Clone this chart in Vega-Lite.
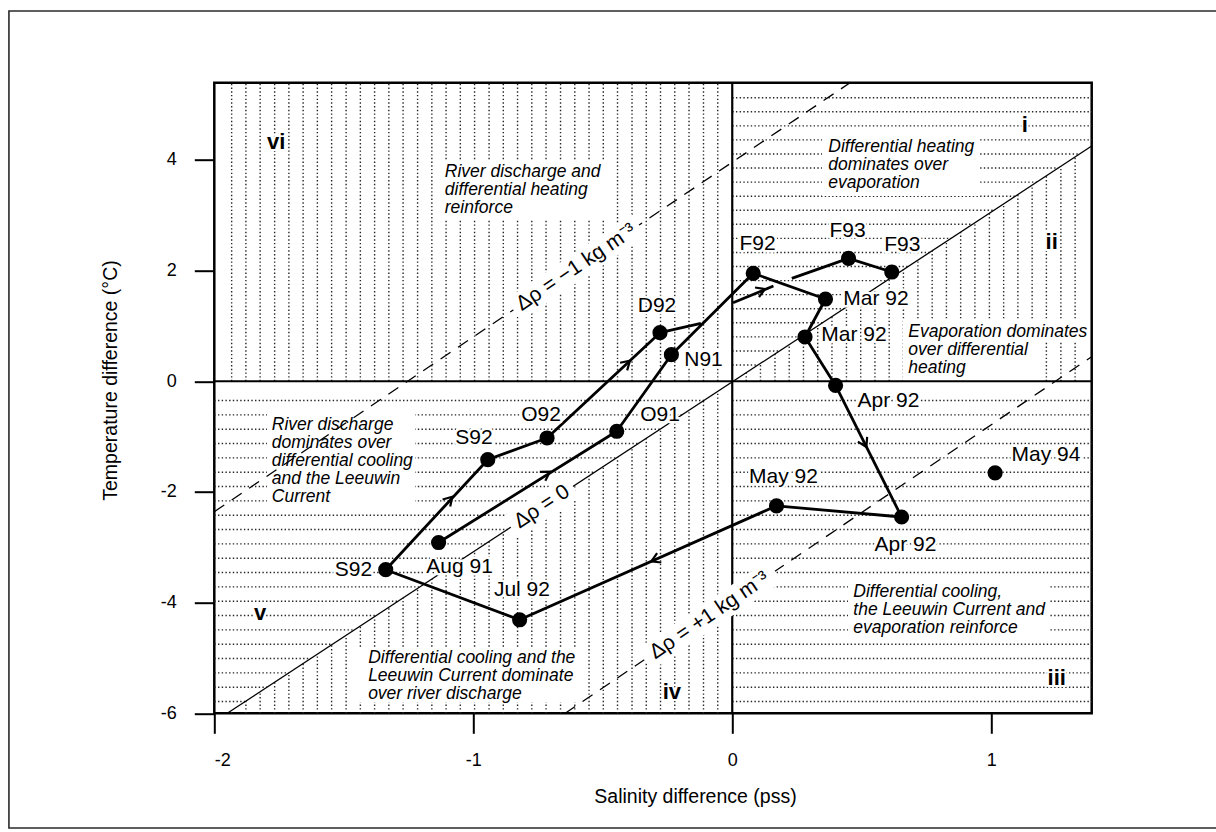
{
  "$schema": "https://vega.github.io/schema/vega-lite/v6.json",
  "width": 877.4,
  "height": 630.6,
  "autosize": {"type": "none"},
  "padding": {"left": 214.3, "top": 82.7, "right": 124.3, "bottom": 118.7},
  "background": "white",
  "config": {
    "view": {"stroke": "black", "strokeWidth": 2.5},
    "font": "Liberation Sans",
    "axis": {
      "domain": false, "grid": false,
      "tickSize": 20, "tickWidth": 2, "tickColor": "black",
      "labelFont": "Liberation Sans", "labelFontSize": 18, "labelColor": "black", "labelPadding": 18,
      "titleFont": "Liberation Sans", "titleFontSize": 19.5, "titleFontWeight": "normal", "titleColor": "black"
    }
  },
  "datasets": {
    "vhatch": [
      {"s":-1.933,"t":0,"t2":5.395},{"s":-1.933,"t":-6,"t2":-5.948},
      {"s":-1.878,"t":0,"t2":5.395},{"s":-1.878,"t":-6,"t2":-5.778},
      {"s":-1.823,"t":0,"t2":5.395},{"s":-1.823,"t":-6,"t2":-5.609},
      {"s":-1.767,"t":0,"t2":5.395},{"s":-1.767,"t":-6,"t2":-5.439},
      {"s":-1.712,"t":0,"t2":5.395},{"s":-1.712,"t":-6,"t2":-5.270},
      {"s":-1.657,"t":0,"t2":5.395},{"s":-1.657,"t":-6,"t2":-5.100},
      {"s":-1.602,"t":0,"t2":5.395},{"s":-1.602,"t":-6,"t2":-4.931},
      {"s":-1.547,"t":0,"t2":5.395},{"s":-1.547,"t":-6,"t2":-4.761},
      {"s":-1.491,"t":0,"t2":5.395},{"s":-1.491,"t":-6,"t2":-4.592},
      {"s":-1.436,"t":0,"t2":5.395},{"s":-1.436,"t":-6,"t2":-4.422},
      {"s":-1.381,"t":0,"t2":5.395},{"s":-1.381,"t":-6,"t2":-4.253},
      {"s":-1.326,"t":0,"t2":5.395},{"s":-1.326,"t":-6,"t2":-4.083},
      {"s":-1.271,"t":0,"t2":5.395},{"s":-1.271,"t":-6,"t2":-3.914},
      {"s":-1.215,"t":0,"t2":5.395},{"s":-1.215,"t":-6,"t2":-3.744},
      {"s":-1.160,"t":0,"t2":5.395},{"s":-1.160,"t":-6,"t2":-3.575},
      {"s":-1.105,"t":0,"t2":5.395},{"s":-1.105,"t":-6,"t2":-3.405},
      {"s":-1.050,"t":0,"t2":5.395},{"s":-1.050,"t":-6,"t2":-3.236},
      {"s":-0.995,"t":0,"t2":5.395},{"s":-0.995,"t":-6,"t2":-3.066},
      {"s":-0.939,"t":0,"t2":5.395},{"s":-0.939,"t":-6,"t2":-2.897},
      {"s":-0.884,"t":0,"t2":5.395},{"s":-0.884,"t":-6,"t2":-2.727},
      {"s":-0.829,"t":0,"t2":5.395},{"s":-0.829,"t":-6,"t2":-2.558},
      {"s":-0.774,"t":0,"t2":5.395},{"s":-0.774,"t":-6,"t2":-2.388},
      {"s":-0.719,"t":0,"t2":5.395},{"s":-0.719,"t":-6,"t2":-2.219},
      {"s":-0.663,"t":0,"t2":5.395},{"s":-0.663,"t":-6,"t2":-2.049},
      {"s":-0.608,"t":0,"t2":5.395},{"s":-0.608,"t":-6,"t2":-1.880},
      {"s":-0.553,"t":0,"t2":5.395},{"s":-0.553,"t":-6,"t2":-1.710},
      {"s":-0.498,"t":0,"t2":5.395},{"s":-0.498,"t":-6,"t2":-1.541},
      {"s":-0.443,"t":0,"t2":5.395},{"s":-0.443,"t":-6,"t2":-1.371},
      {"s":-0.387,"t":0,"t2":5.395},{"s":-0.387,"t":-6,"t2":-1.202},
      {"s":-0.332,"t":0,"t2":5.395},{"s":-0.332,"t":-6,"t2":-1.032},
      {"s":-0.277,"t":0,"t2":5.395},{"s":-0.277,"t":-6,"t2":-0.863},
      {"s":-0.222,"t":0,"t2":5.395},{"s":-0.222,"t":-6,"t2":-0.693},
      {"s":-0.167,"t":0,"t2":5.395},{"s":-0.167,"t":-6,"t2":-0.524},
      {"s":-0.111,"t":0,"t2":5.395},{"s":-0.111,"t":-6,"t2":-0.354},
      {"s":-0.056,"t":0,"t2":5.395},{"s":-0.056,"t":-6,"t2":-0.185},
      {"s":0.054,"t":0,"t2":0.154},{"s":0.109,"t":0,"t2":0.324},
      {"s":0.165,"t":0,"t2":0.493},{"s":0.220,"t":0,"t2":0.663},
      {"s":0.275,"t":0,"t2":0.832},{"s":0.330,"t":0,"t2":1.002},
      {"s":0.385,"t":0,"t2":1.171},{"s":0.441,"t":0,"t2":1.341},
      {"s":0.496,"t":0,"t2":1.510},{"s":0.551,"t":0,"t2":1.680},
      {"s":0.606,"t":0,"t2":1.849},{"s":0.661,"t":0,"t2":2.019},
      {"s":0.717,"t":0,"t2":2.188},{"s":0.772,"t":0,"t2":2.358},
      {"s":0.827,"t":0,"t2":2.527},{"s":0.882,"t":0,"t2":2.697},
      {"s":0.937,"t":0,"t2":2.866},{"s":0.993,"t":0,"t2":3.036},
      {"s":1.048,"t":0,"t2":3.205},{"s":1.103,"t":0,"t2":3.375},
      {"s":1.158,"t":0,"t2":3.544},{"s":1.213,"t":0,"t2":3.714},
      {"s":1.269,"t":0,"t2":3.883},{"s":1.324,"t":0,"t2":4.053}
    ],
    "hhatch": [
      {"t":-0.348,"s":-2,"s2":-0.109},{"t":-0.348,"s":0,"s2":1.388},
      {"t":-0.607,"s":-2,"s2":-0.194},{"t":-0.607,"s":0,"s2":1.388},
      {"t":-0.866,"s":-2,"s2":-0.278},{"t":-0.866,"s":0,"s2":1.388},
      {"t":-1.125,"s":-2,"s2":-0.362},{"t":-1.125,"s":0,"s2":1.388},
      {"t":-1.384,"s":-2,"s2":-0.447},{"t":-1.384,"s":0,"s2":1.388},
      {"t":-1.643,"s":-2,"s2":-0.531},{"t":-1.643,"s":0,"s2":1.388},
      {"t":-1.902,"s":-2,"s2":-0.615},{"t":-1.902,"s":0,"s2":1.388},
      {"t":-2.161,"s":-2,"s2":-0.700},{"t":-2.161,"s":0,"s2":1.388},
      {"t":-2.420,"s":-2,"s2":-0.784},{"t":-2.420,"s":0,"s2":1.388},
      {"t":-2.679,"s":-2,"s2":-0.868},{"t":-2.679,"s":0,"s2":1.388},
      {"t":-2.938,"s":-2,"s2":-0.953},{"t":-2.938,"s":0,"s2":1.388},
      {"t":-3.197,"s":-2,"s2":-1.037},{"t":-3.197,"s":0,"s2":1.388},
      {"t":-3.456,"s":-2,"s2":-1.122},{"t":-3.456,"s":0,"s2":1.388},
      {"t":-3.715,"s":-2,"s2":-1.206},{"t":-3.715,"s":0,"s2":1.388},
      {"t":-3.974,"s":-2,"s2":-1.290},{"t":-3.974,"s":0,"s2":1.388},
      {"t":-4.233,"s":-2,"s2":-1.375},{"t":-4.233,"s":0,"s2":1.388},
      {"t":-4.492,"s":-2,"s2":-1.459},{"t":-4.492,"s":0,"s2":1.388},
      {"t":-4.751,"s":-2,"s2":-1.543},{"t":-4.751,"s":0,"s2":1.388},
      {"t":-5.010,"s":-2,"s2":-1.628},{"t":-5.010,"s":0,"s2":1.388},
      {"t":-5.269,"s":-2,"s2":-1.712},{"t":-5.269,"s":0,"s2":1.388},
      {"t":-5.528,"s":-2,"s2":-1.796},{"t":-5.528,"s":0,"s2":1.388},
      {"t":-5.787,"s":-2,"s2":-1.881},{"t":-5.787,"s":0,"s2":1.388},
      {"t":0.294,"s":0,"s2":0.100},{"t":0.548,"s":0,"s2":0.182},
      {"t":0.802,"s":0,"s2":0.265},{"t":1.057,"s":0,"s2":0.348},
      {"t":1.311,"s":0,"s2":0.431},{"t":1.565,"s":0,"s2":0.514},
      {"t":1.819,"s":0,"s2":0.596},{"t":2.073,"s":0,"s2":0.679},
      {"t":2.328,"s":0,"s2":0.762},{"t":2.582,"s":0,"s2":0.845},
      {"t":2.836,"s":0,"s2":0.928},{"t":3.090,"s":0,"s2":1.010},
      {"t":3.344,"s":0,"s2":1.093},{"t":3.599,"s":0,"s2":1.176},
      {"t":3.853,"s":0,"s2":1.259},{"t":4.107,"s":0,"s2":1.341},
      {"t":4.361,"s":0,"s2":1.388},{"t":4.615,"s":0,"s2":1.388},
      {"t":4.870,"s":0,"s2":1.388},{"t":5.124,"s":0,"s2":1.388}
    ],
    "boxes": [
      {"s":-1.140,"s2":-0.4875,"t":2.914,"t2":3.998},
      {"s":0.3466,"s2":0.9567,"t":3.348,"t2":4.396},
      {"s":0.6594,"s2":1.3815,"t":0.7095,"t2":1.107},
      {"s":0.6594,"s2":1.169,"t":0.005,"t2":0.7095},
      {"s":-1.7965,"s2":-1.225,"t":-2.200,"t2":-0.519},
      {"s":-1.443,"s2":-0.593,"t":-5.796,"t2":-4.82},
      {"s":0.447,"s2":1.2271,"t":-4.621,"t2":-3.555}
    ],
    "rho": [
      {"line":"zero","s":-1.95,"t":-6},{"line":"zero","s":1.388,"t":4.25},
      {"line":"minus1","s":-2,"t":-2.357},{"line":"minus1","s":0.455,"t":5.395},
      {"line":"plus1","s":-0.645,"t":-6},{"line":"plus1","s":1.388,"t":0.444}
    ],
    "strips": [
      {"k":"minus1","s":-0.845,"t":1.290},{"k":"minus1","s":-0.36,"t":2.822},
      {"k":"zero","s":-0.855,"t":-2.638},{"k":"zero","s":-0.615,"t":-1.901},
      {"k":"plus1","s":-0.34,"t":-5.033},{"k":"plus1","s":0.165,"t":-3.432}
    ],
    "rholabels": [
      {"label":"Δρ = −1 kg m⁻³","s":-0.6025,"t":2.056,"ang":326.0},
      {"label":"Δρ = 0","s":-0.735,"t":-2.269,"ang":326.7},
      {"label":"Δρ = +1 kg m⁻³","s":-0.0875,"t":-4.233,"ang":325.9}
    ],
    "path": [
      {"seg":"a","o":1,"s":-1.134,"t":-2.914},
      {"seg":"a","o":2,"s":-0.446,"t":-0.904},
      {"seg":"a","o":3,"s":-0.235,"t":0.480},
      {"seg":"a","o":4,"s":0.081,"t":1.951},
      {"seg":"a","o":5,"s":0.360,"t":1.486},
      {"seg":"a","o":6,"s":0.281,"t":0.800},
      {"seg":"a","o":7,"s":0.399,"t":-0.075},
      {"seg":"a","o":8,"s":0.654,"t":-2.453},
      {"seg":"a","o":9,"s":0.171,"t":-2.251},
      {"seg":"a","o":10,"s":-0.821,"t":-4.310},
      {"seg":"a","o":11,"s":-1.338,"t":-3.405},
      {"seg":"a","o":12,"s":-0.944,"t":-1.417},
      {"seg":"a","o":13,"s":-0.715,"t":-1.025},
      {"seg":"a","o":14,"s":-0.279,"t":0.878},
      {"seg":"a","o":15,"s":-0.121,"t":1.047},
      {"seg":"b","o":1,"s":0.003,"t":1.420},
      {"seg":"b","o":2,"s":0.159,"t":1.721},
      {"seg":"c","o":1,"s":0.230,"t":1.860},
      {"seg":"c","o":2,"s":0.449,"t":2.220},
      {"seg":"c","o":3,"s":0.616,"t":1.974}
    ],
    "arrows": [
      {"s":-0.704,"t":-1.634,"dir":328.0},
      {"s":-1.081,"t":-2.086,"dir":312.8},
      {"s":-0.395,"t":0.373,"dir":317.0},
      {"s":0.1265,"t":1.667,"dir":337.5},
      {"s":0.518,"t":-1.188,"dir":63.3},
      {"s":-0.3126,"t":-3.253,"dir":156.1}
    ],
    "obs": [
      {"name":"Aug 91","s":-1.134,"t":-2.914},
      {"name":"O91","s":-0.446,"t":-0.904},
      {"name":"N91","s":-0.235,"t":0.480},
      {"name":"F92","s":0.081,"t":1.951},
      {"name":"Mar 92","s":0.360,"t":1.486},
      {"name":"Mar 92","s":0.281,"t":0.800},
      {"name":"Apr 92","s":0.399,"t":-0.075},
      {"name":"Apr 92","s":0.654,"t":-2.453},
      {"name":"May 92","s":0.171,"t":-2.251},
      {"name":"Jul 92","s":-0.821,"t":-4.310},
      {"name":"S92","s":-1.338,"t":-3.405},
      {"name":"S92","s":-0.944,"t":-1.417},
      {"name":"O92","s":-0.715,"t":-1.025},
      {"name":"D92","s":-0.279,"t":0.878},
      {"name":"F93","s":0.449,"t":2.220},
      {"name":"F93","s":0.616,"t":1.974},
      {"name":"May 94","s":1.015,"t":-1.654}
    ],
    "labels": [
      {"label":"F92","s":0.0975,"t":2.489},
      {"label":"F93","s":0.445,"t":2.724},
      {"label":"F93","s":0.657,"t":2.462},
      {"label":"Mar 92","s":0.555,"t":1.495},
      {"label":"Mar 92","s":0.470,"t":0.836},
      {"label":"Apr 92","s":0.603,"t":-0.357},
      {"label":"O92","s":-0.738,"t":-0.601},
      {"label":"O91","s":-0.279,"t":-0.601},
      {"label":"S92","s":-0.997,"t":-1.034},
      {"label":"Aug 91","s":-1.053,"t":-3.365},
      {"label":"S92","s":-1.4625,"t":-3.411},
      {"label":"Jul 92","s":-0.812,"t":-3.763},
      {"label":"D92","s":-0.2905,"t":1.351},
      {"label":"N91","s":-0.111,"t":0.393},
      {"label":"May 92","s":0.198,"t":-1.739},
      {"label":"Apr 92","s":0.669,"t":-2.959},
      {"label":"May 94","s":1.2116,"t":-1.332}
    ],
    "notes": [
      {"text":"River discharge and\ndifferential heating\nreinforce","s":-1.110,"t":3.686},
      {"text":"Differential heating\ndominates over\nevaporation","s":0.371,"t":4.148},
      {"text":"Evaporation dominates\nover differential\nheating","s":0.680,"t":0.805},
      {"text":"River discharge\ndominates over\ndifferential cooling\nand the Leeuwin\nCurrent","s":-1.778,"t":-0.881},
      {"text":"Differential cooling and the\nLeeuwin Current dominate\nover river discharge","s":-1.406,"t":-5.096},
      {"text":"Differential cooling,\nthe Leeuwin Current and\nevaporation reinforce","s":0.4675,"t":-3.893}
    ],
    "regions": [
      {"label":"vi","s":-1.761,"t":4.329},
      {"label":"i","s":1.130,"t":4.631},
      {"label":"ii","s":1.2336,"t":2.522},
      {"label":"iii","s":1.253,"t":-5.368},
      {"label":"iv","s":-0.233,"t":-5.615},
      {"label":"v","s":-1.823,"t":-4.193}
    ]
  },
  "layer": [
    {
      "data": {"name": "vhatch"},
      "mark": {"type": "rule", "stroke": "#262626", "strokeWidth": 1.4, "strokeDash": [1.4, 2.3]},
      "encoding": {
        "x": {"field": "s", "type": "quantitative", "title": "Salinity difference (pss)",
          "scale": {"domain": [-2, 1.388], "nice": false, "zero": false},
          "axis": {"values": [-2, -1, 0, 1], "format": "d", "title": "Salinity difference (pss)",
            "labelExpr": "replace(datum.label, '−', '-')",
            "titleX": 480.7, "titleY": 82.7, "titleAlign": "center", "titleBaseline": "middle"}},
        "y": {"field": "t", "type": "quantitative", "title": "Temperature difference (°C)",
          "scale": {"domain": [-6, 5.395], "nice": false, "zero": false},
          "axis": {"values": [-6, -4, -2, 0, 2, 4], "format": "d", "title": "Temperature difference (°C)",
            "labelExpr": "replace(datum.label, '−', '-')",
            "titleX": -104.3, "titleY": 297.3, "titleAngle": 270, "titleAlign": "center", "titleBaseline": "middle"}},
        "y2": {"field": "t2"}
      }
    },
    {
      "data": {"name": "hhatch"},
      "mark": {"type": "rule", "stroke": "#262626", "strokeWidth": 1.4, "strokeDash": [1.4, 2.3]},
      "encoding": {
        "x": {"field": "s", "type": "quantitative", "title": "Salinity difference (pss)", "scale": {"domain": [-2, 1.388], "nice": false, "zero": false}},
        "x2": {"field": "s2"},
        "y": {"field": "t", "type": "quantitative", "title": "Temperature difference (°C)", "scale": {"domain": [-6, 5.395], "nice": false, "zero": false}}
      }
    },
    {
      "data": {"name": "boxes"},
      "mark": {"type": "rect", "fill": "white", "stroke": null},
      "encoding": {
        "x": {"field": "s", "type": "quantitative", "title": "Salinity difference (pss)", "scale": {"domain": [-2, 1.388], "nice": false, "zero": false}},
        "x2": {"field": "s2"},
        "y": {"field": "t", "type": "quantitative", "title": "Temperature difference (°C)", "scale": {"domain": [-6, 5.395], "nice": false, "zero": false}},
        "y2": {"field": "t2"}
      }
    },
    {
      "data": {"name": "rho"},
      "transform": [{"filter": "datum.line == 'zero'"}],
      "mark": {"type": "line", "stroke": "black", "strokeWidth": 1.3},
      "encoding": {
        "x": {"field": "s", "type": "quantitative", "title": "Salinity difference (pss)", "scale": {"domain": [-2, 1.388], "nice": false, "zero": false}},
        "y": {"field": "t", "type": "quantitative", "title": "Temperature difference (°C)", "scale": {"domain": [-6, 5.395], "nice": false, "zero": false}},
        "detail": {"field": "line"}
      }
    },
    {
      "data": {"name": "rho"},
      "transform": [{"filter": "datum.line != 'zero'"}],
      "mark": {"type": "line", "stroke": "black", "strokeWidth": 1.3, "strokeDash": [12, 9]},
      "encoding": {
        "x": {"field": "s", "type": "quantitative", "title": "Salinity difference (pss)", "scale": {"domain": [-2, 1.388], "nice": false, "zero": false}},
        "y": {"field": "t", "type": "quantitative", "title": "Temperature difference (°C)", "scale": {"domain": [-6, 5.395], "nice": false, "zero": false}},
        "detail": {"field": "line"}
      }
    },
    {
      "data": {"values": [{"s": 0}]},
      "mark": {"type": "rule", "stroke": "black", "strokeWidth": 2.2},
      "encoding": {"x": {"field": "s", "type": "quantitative", "title": "Salinity difference (pss)", "scale": {"domain": [-2, 1.388], "nice": false, "zero": false}}}
    },
    {
      "data": {"values": [{"t": 0}]},
      "mark": {"type": "rule", "stroke": "black", "strokeWidth": 2.2},
      "encoding": {"y": {"field": "t", "type": "quantitative", "title": "Temperature difference (°C)", "scale": {"domain": [-6, 5.395], "nice": false, "zero": false}}}
    },
    {
      "data": {"name": "strips"},
      "mark": {"type": "line", "stroke": "white", "strokeWidth": 26, "strokeCap": "butt"},
      "encoding": {
        "x": {"field": "s", "type": "quantitative", "title": "Salinity difference (pss)", "scale": {"domain": [-2, 1.388], "nice": false, "zero": false}},
        "y": {"field": "t", "type": "quantitative", "title": "Temperature difference (°C)", "scale": {"domain": [-6, 5.395], "nice": false, "zero": false}},
        "detail": {"field": "k"}
      }
    },
    {
      "data": {"name": "path"},
      "mark": {"type": "line", "stroke": "black", "strokeWidth": 2.8, "strokeJoin": "round"},
      "encoding": {
        "x": {"field": "s", "type": "quantitative", "title": "Salinity difference (pss)", "scale": {"domain": [-2, 1.388], "nice": false, "zero": false}},
        "y": {"field": "t", "type": "quantitative", "title": "Temperature difference (°C)", "scale": {"domain": [-6, 5.395], "nice": false, "zero": false}},
        "detail": {"field": "seg"},
        "order": {"field": "o", "type": "quantitative"}
      }
    },
    {
      "data": {"name": "arrows"},
      "mark": {"type": "point", "shape": "M-1,-0.6L0,0L-1,0.6", "filled": false, "stroke": "black", "strokeWidth": 2.2, "size": 300, "opacity": 1},
      "encoding": {
        "x": {"field": "s", "type": "quantitative", "title": "Salinity difference (pss)", "scale": {"domain": [-2, 1.388], "nice": false, "zero": false}},
        "y": {"field": "t", "type": "quantitative", "title": "Temperature difference (°C)", "scale": {"domain": [-6, 5.395], "nice": false, "zero": false}},
        "angle": {"field": "dir", "type": "quantitative", "scale": null}
      }
    },
    {
      "data": {"name": "obs"},
      "mark": {"type": "point", "shape": "circle", "filled": true, "fill": "black", "stroke": null, "size": 230, "opacity": 1},
      "encoding": {
        "x": {"field": "s", "type": "quantitative", "title": "Salinity difference (pss)", "scale": {"domain": [-2, 1.388], "nice": false, "zero": false}},
        "y": {"field": "t", "type": "quantitative", "title": "Temperature difference (°C)", "scale": {"domain": [-6, 5.395], "nice": false, "zero": false}}
      }
    },
    {
      "data": {"name": "labels"},
      "mark": {"type": "text", "font": "Liberation Sans", "fontSize": 21, "align": "center", "baseline": "middle", "stroke": "white", "strokeWidth": 5, "fill": "white", "strokeJoin": "round"},
      "encoding": {
        "x": {"field": "s", "type": "quantitative", "title": "Salinity difference (pss)", "scale": {"domain": [-2, 1.388], "nice": false, "zero": false}},
        "y": {"field": "t", "type": "quantitative", "title": "Temperature difference (°C)", "scale": {"domain": [-6, 5.395], "nice": false, "zero": false}},
        "text": {"field": "label", "type": "nominal"}
      }
    },
    {
      "data": {"name": "labels"},
      "mark": {"type": "text", "font": "Liberation Sans", "fontSize": 21, "align": "center", "baseline": "middle", "fill": "black"},
      "encoding": {
        "x": {"field": "s", "type": "quantitative", "title": "Salinity difference (pss)", "scale": {"domain": [-2, 1.388], "nice": false, "zero": false}},
        "y": {"field": "t", "type": "quantitative", "title": "Temperature difference (°C)", "scale": {"domain": [-6, 5.395], "nice": false, "zero": false}},
        "text": {"field": "label", "type": "nominal"}
      }
    },
    {
      "data": {"name": "notes"},
      "mark": {"type": "text", "font": "Liberation Sans", "fontStyle": "italic", "fontSize": 17.5, "align": "left", "baseline": "alphabetic", "lineBreak": "\n", "lineHeight": 18, "fill": "black"},
      "encoding": {
        "x": {"field": "s", "type": "quantitative", "title": "Salinity difference (pss)", "scale": {"domain": [-2, 1.388], "nice": false, "zero": false}},
        "y": {"field": "t", "type": "quantitative", "title": "Temperature difference (°C)", "scale": {"domain": [-6, 5.395], "nice": false, "zero": false}},
        "text": {"field": "text", "type": "nominal"}
      }
    },
    {
      "data": {"name": "rholabels"},
      "mark": {"type": "text", "font": "Liberation Sans", "fontSize": 21, "align": "center", "baseline": "middle", "fill": "black"},
      "encoding": {
        "x": {"field": "s", "type": "quantitative", "title": "Salinity difference (pss)", "scale": {"domain": [-2, 1.388], "nice": false, "zero": false}},
        "y": {"field": "t", "type": "quantitative", "title": "Temperature difference (°C)", "scale": {"domain": [-6, 5.395], "nice": false, "zero": false}},
        "text": {"field": "label", "type": "nominal"},
        "angle": {"field": "ang", "type": "quantitative", "scale": null}
      }
    },
    {
      "data": {"name": "regions"},
      "mark": {"type": "text", "font": "Liberation Sans", "fontWeight": "bold", "fontSize": 22, "align": "center", "baseline": "middle", "stroke": "white", "strokeWidth": 4, "fill": "white"},
      "encoding": {
        "x": {"field": "s", "type": "quantitative", "title": "Salinity difference (pss)", "scale": {"domain": [-2, 1.388], "nice": false, "zero": false}},
        "y": {"field": "t", "type": "quantitative", "title": "Temperature difference (°C)", "scale": {"domain": [-6, 5.395], "nice": false, "zero": false}},
        "text": {"field": "label", "type": "nominal"}
      }
    },
    {
      "data": {"name": "regions"},
      "mark": {"type": "text", "font": "Liberation Sans", "fontWeight": "bold", "fontSize": 22, "align": "center", "baseline": "middle", "fill": "black"},
      "encoding": {
        "x": {"field": "s", "type": "quantitative", "title": "Salinity difference (pss)", "scale": {"domain": [-2, 1.388], "nice": false, "zero": false}},
        "y": {"field": "t", "type": "quantitative", "title": "Temperature difference (°C)", "scale": {"domain": [-6, 5.395], "nice": false, "zero": false}},
        "text": {"field": "label", "type": "nominal"}
      }
    },
    {
      "data": {"values": [{"s": -2.793, "s2": 1.95, "t": 6.691, "t2": -8.073}]},
      "mark": {"type": "rect", "filled": false, "stroke": "#2a2a2a", "strokeWidth": 1.6, "clip": false},
      "encoding": {
        "x": {"field": "s", "type": "quantitative", "title": "Salinity difference (pss)", "scale": {"domain": [-2, 1.388], "nice": false, "zero": false}},
        "x2": {"field": "s2"},
        "y": {"field": "t", "type": "quantitative", "title": "Temperature difference (°C)", "scale": {"domain": [-6, 5.395], "nice": false, "zero": false}},
        "y2": {"field": "t2"}
      }
    }
  ]
}
